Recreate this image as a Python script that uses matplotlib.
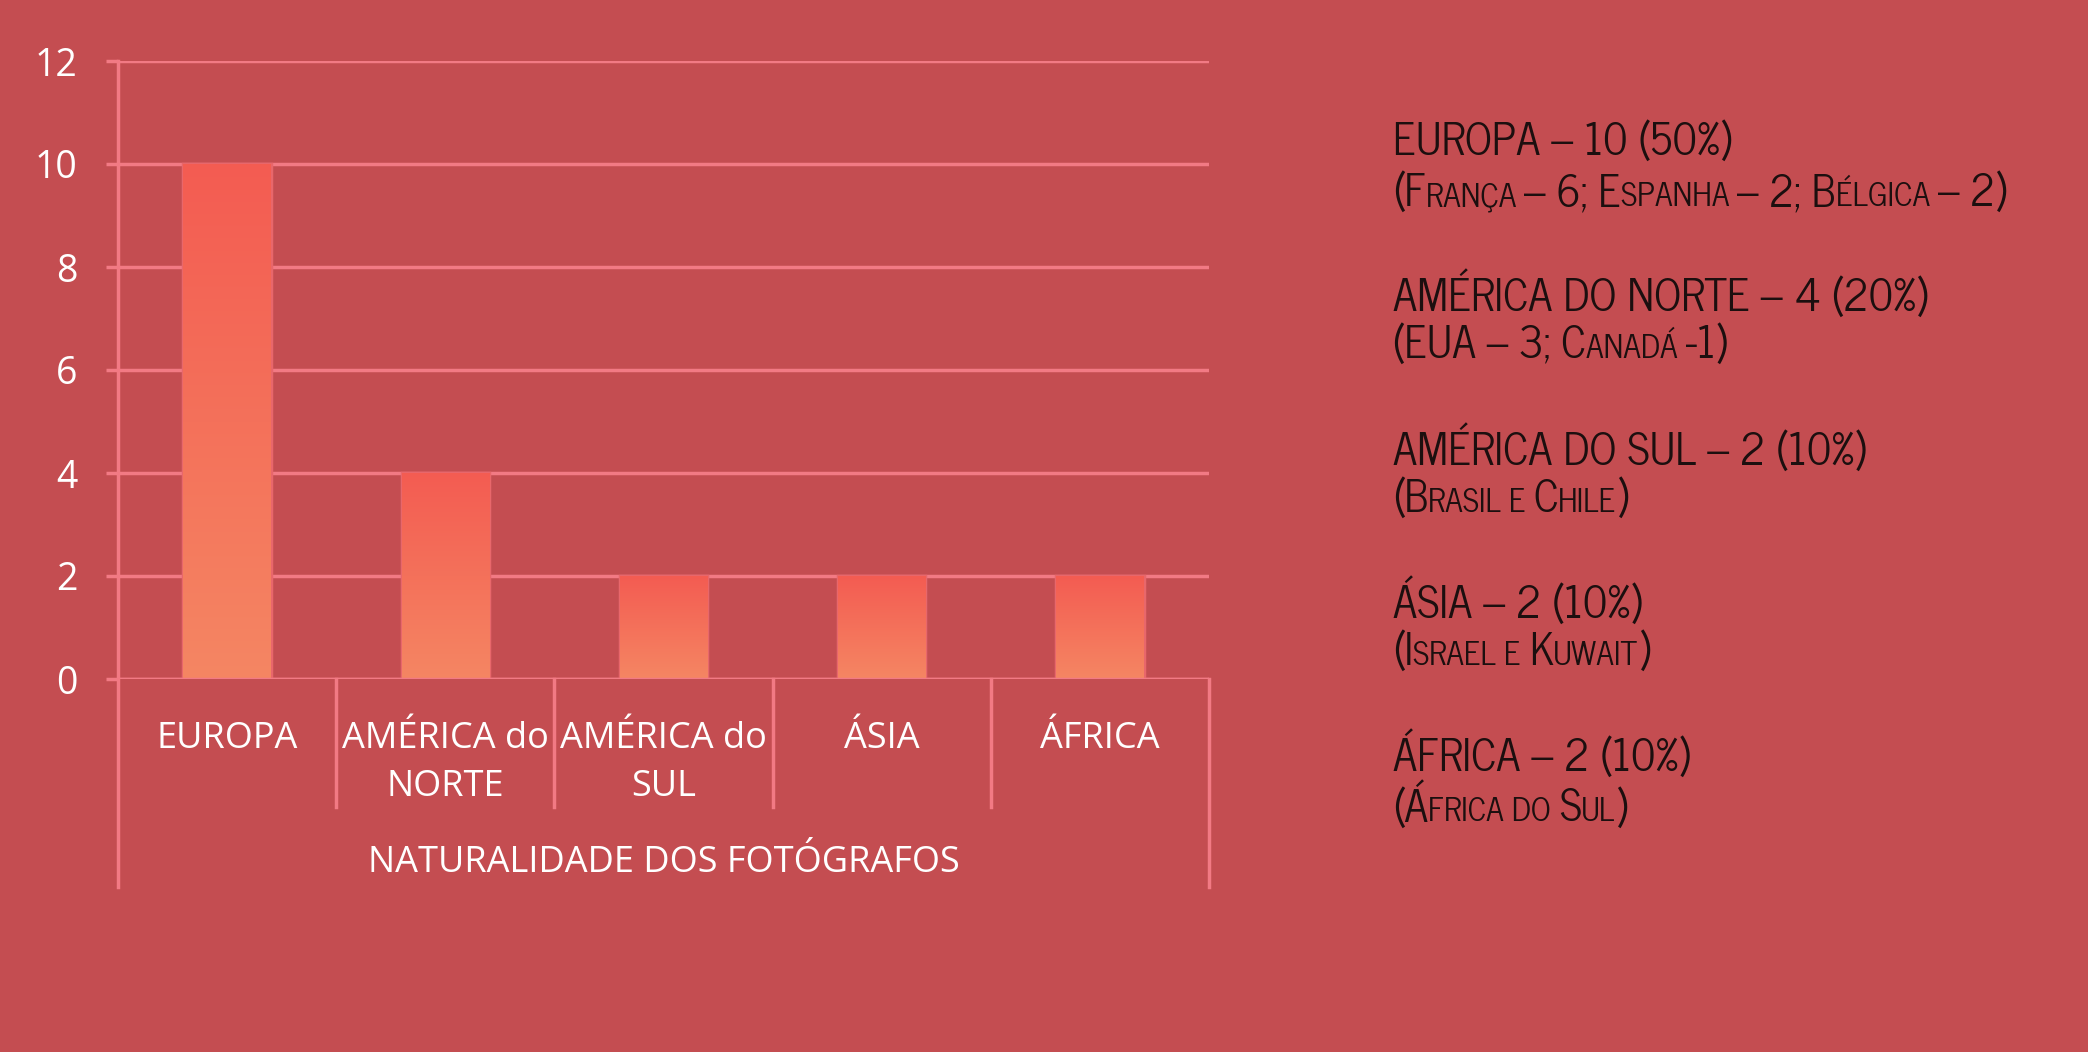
import numpy as np
import matplotlib.pyplot as plt
from matplotlib.colors import LinearSegmentedColormap
from matplotlib.offsetbox import TextArea, HPacker, AnnotationBbox

# Data
regions = ["EUROPA", "AMÉRICA do\nNORTE", "AMÉRICA do\nSUL", "ÁSIA", "ÁFRICA"]
photographers = [10, 4, 2, 2, 2]
yticks = [0, 2, 4, 6, 8, 10, 12]
axis_title = "NATURALIDADE DOS FOTÓGRAFOS"
legend_names = ["EUROPA", "AMÉRICA DO NORTE", "AMÉRICA DO SUL", "ÁSIA", "ÁFRICA"]
legend_details = ["(França – 6; Espanha – 2; Bélgica – 2)",
                  "(EUA – 3; Canadá -1)",
                  "(Brasil e Chile)",
                  "(Israel e Kuwait)",
                  "(África do Sul)"]

# Style
bg = "#C44D51"
grid_col = "#F27A84"
bar_top = "#F35C52"
bar_bottom = "#F58663"
text_dark = "#1C0F0F"
W, H = 2088, 1052
label_font = ["Open Sans", "DejaVu Sans"]
side_font = ["News Cycle", "DejaVu Sans"]

fig = plt.figure(figsize=(W / 100, H / 100), dpi=100, facecolor=bg)
ax = fig.add_axes([118 / W, 1 - 679 / H, (1209 - 118) / W, (679 - 61) / H])
ax.set_facecolor(bg)

x = np.arange(len(regions))
bars = ax.bar(x, photographers, width=0.4, color="none", edgecolor="#E8676B",
              linewidth=2.5, zorder=2)

# gradient fill for each bar
cmap = LinearSegmentedColormap.from_list("bar", [bar_bottom, bar_top])
grad = np.linspace(0, 1, 256).reshape(-1, 1)
for p in bars:
    x0, y0 = p.get_x(), p.get_y()
    w, h = p.get_width(), p.get_height()
    im = ax.imshow(grad, cmap=cmap, origin="lower", aspect="auto",
                   extent=[x0, x0 + w, y0, y0 + h], zorder=2.5)
    im.set_clip_path(p)

ax.set_xlim(-0.5, len(regions) - 0.5)
ax.set_ylim(0, 12)

# grid
ax.set_yticks(yticks)
ax.yaxis.grid(True, color=grid_col, linewidth=2.5)
ax.set_axisbelow(True)
ax.axhline(0, color=grid_col, linewidth=2.5, zorder=3)
for s in ax.spines.values():
    s.set_visible(False)

ax.tick_params(axis="y", length=9, width=2.5, color=grid_col, pad=20,
               labelsize=27, labelcolor="white")
for t in ax.get_yticklabels():
    t.set_family(label_font)

ax.set_xticks(x, regions)
ax.tick_params(axis="x", length=0, pad=30, labelsize=26, labelcolor="white")
for t in ax.get_xticklabels():
    t.set_family(label_font)
    t.set_linespacing(1.45)

# category separators below the axis
tr = ax.get_xaxis_transform()
inner_bottom = (679 - 807) / (679 - 61)
outer_bottom = (679 - 887) / (679 - 61)
for b in np.arange(0.5, len(regions) - 1, 1.0):
    ax.plot([b, b], [0, inner_bottom], transform=tr, color=grid_col,
            linewidth=2.5, clip_on=False)
ax.plot([-0.5, -0.5], [1, outer_bottom], transform=tr, color=grid_col,
        linewidth=2.5, clip_on=False)
ax.plot([len(regions) - 0.5] * 2, [0, outer_bottom], transform=tr,
        color=grid_col, linewidth=2.5, clip_on=False)

ax.text(0.5, (679 - 863) / (679 - 61), axis_title, transform=ax.transAxes,
        ha="center", va="center", color="white", fontsize=26, family=label_font)


# side notes with simulated small caps
def smallcaps_runs(s):
    runs = []
    for ch in s:
        small = ch.islower()
        c = ch.upper() if small else ch
        if ch == " " and runs:
            small = runs[-1][1]
        if runs and runs[-1][1] == small:
            runs[-1][0] += c
        else:
            runs.append([c, small])
    return runs


total = sum(photographers)
block_y = [143, 295, 449, 602, 755]
for name, val, det, yy in zip(legend_names, photographers, legend_details, block_y):
    head = f"{name} – {val} ({round(100 * val / total)}%)"
    fig.text(1393 / W, 1 - yy / H, head, ha="left", va="center",
             fontsize=31.5, color=text_dark, family=side_font)
    parts = [TextArea(r, textprops=dict(fontsize=23 if sm else 31, color=text_dark,
                                        family=side_font))
             for r, sm in smallcaps_runs(det)]
    pack = HPacker(children=parts, align="baseline", pad=0, sep=0)
    ab = AnnotationBbox(pack, (1393 / W, 1 - (yy + 51) / H), xycoords="figure fraction",
                        box_alignment=(0, 0.5), frameon=False, pad=0)
    fig.add_artist(ab)

fig.savefig("out.png", dpi=100, facecolor=bg)
